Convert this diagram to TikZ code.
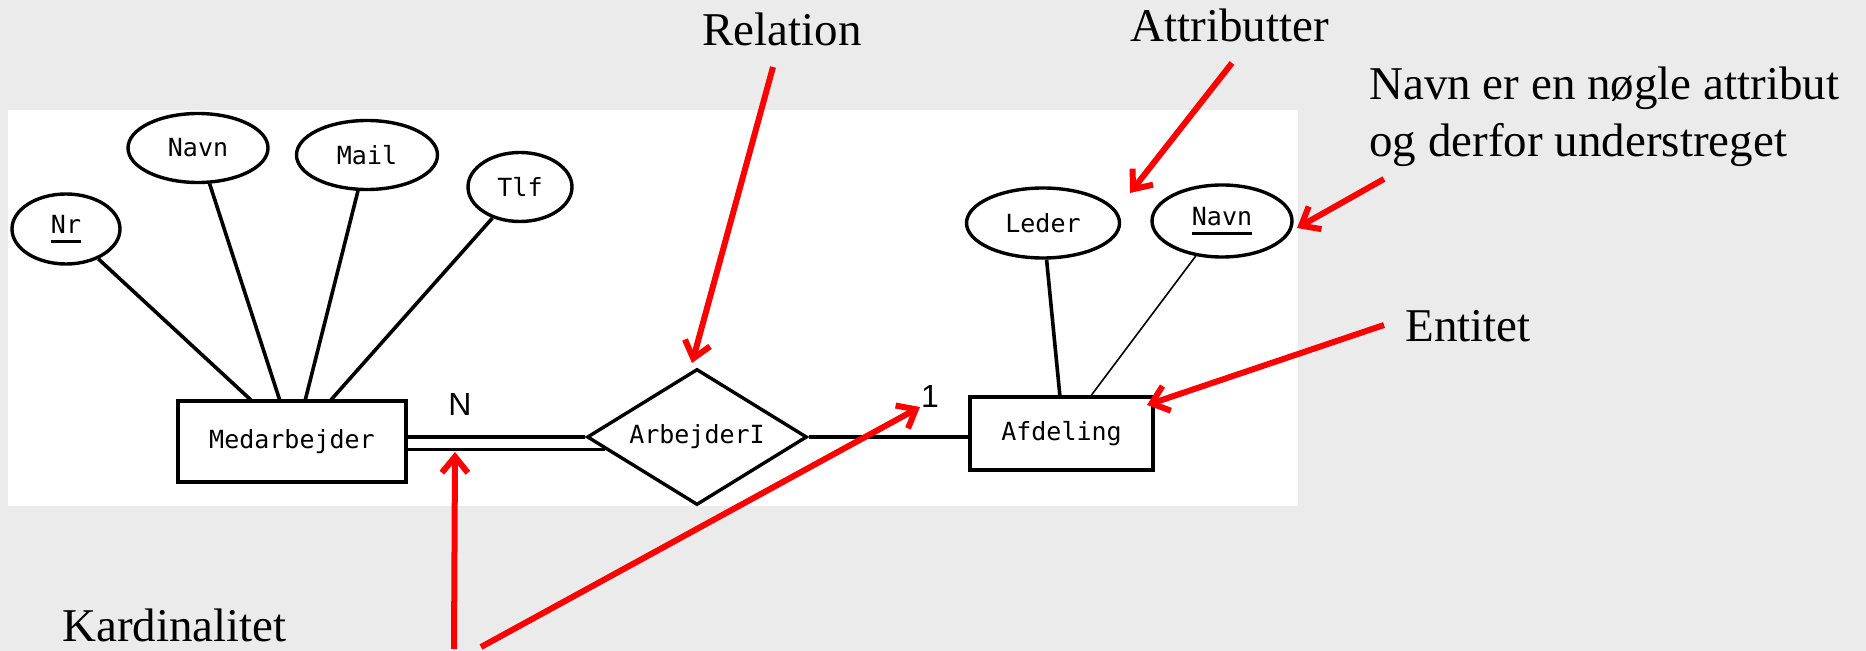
\documentclass[tikz,border=0pt]{standalone}
\usepackage{fontspec}
\setmainfont{Liberation Serif}
\newfontfamily\monofnt{DejaVu Sans Mono}
\newfontfamily\labfnt{Liberation Sans}
\usetikzlibrary{shapes.geometric,arrows.meta,calc}
\definecolor{bggray}{RGB}{235,235,235}
\newcommand\keyul[1]{\setbox0\hbox{#1}\rlap{\rule[-4.5pt]{\wd0}{1.5pt}}\box0}
\begin{document}
\begin{tikzpicture}[x=0.5pt,y=-0.5pt,
  mono/.style={font=\monofnt\fontsize{12.5pt}{14pt}\selectfont},
  attr/.style={ellipse,draw,line width=1.7pt,inner sep=0pt,mono},
  ent/.style={rectangle,draw,line width=1.8pt,inner sep=0pt,mono},
  rel/.style={diamond,draw,line width=1.7pt,inner sep=0pt,shape aspect=1.6,minimum width=110pt,minimum height=68pt,mono},
  link/.style={line width=1.8pt},
  thinlink/.style={line width=0.8pt},
  card/.style={font=\labfnt\fontsize{16pt}{18pt}\selectfont,inner sep=0pt},
  note/.style={font=\fontsize{23.5pt}{28pt}\selectfont,inner sep=0pt,anchor=base west},
  redarr/.style={draw=red,line width=3pt,-{Straight Barb[length=8pt,width=13pt]}}]
\useasboundingbox (0,0) rectangle (1866,651);
\fill[bggray] (0,0) rectangle (1866,651);
\fill[white] (8,110) rectangle (1298,506);

% attributes
\node[attr,minimum width=54pt,minimum height=35pt] (nr) at (66,229) {\keyul{Nr}};
\node[attr,minimum width=70pt,minimum height=34.5pt] (navn) at (198,148) {Navn};
\node[attr,minimum width=70.5pt,minimum height=34.5pt] (mail) at (367,155) {Mail};
\node[attr,minimum width=52pt,minimum height=34.5pt] (tlf) at (520,187) {Tlf};
\node[attr,minimum width=76.5pt,minimum height=35pt] (leder) at (1043,223) {Leder};
\node[attr,minimum width=70pt,minimum height=36pt] (navn2) at (1222,221) {\keyul{Navn}};

% entities and relation
\node[ent,minimum width=114pt,minimum height=40.5pt] (med) at (292,441.5) {Medarbejder};
\node[ent,minimum width=91.5pt,minimum height=36.5pt] (afd) at (1061.5,433.5) {Afdeling};
\node[rel] (arb) at (697,437) {ArbejderI};

% attribute links
\coordinate (m1) at (252,401);
\coordinate (m2) at (280,401);
\coordinate (m3) at (305,401);
\coordinate (m4) at (330,401);
\coordinate (a1) at (1060,397);
\coordinate (a2) at (1090,397);
\draw[link] (nr) -- (m1);
\draw[link] (navn) -- (m2);
\draw[link] (mail) -- (m3);
\draw[link] (tlf) -- (m4);
\draw[link] (leder) -- (a1);
\draw[thinlink] (navn2) -- (a2);

% relation links
\draw[link] (arb.west) -- (arb.west -| med.east);
\coordinate (arbw2) at ($(arb.west)!0.1765!(arb.south)$);
\draw[link] (arbw2) -- (arbw2 -| med.east);
\draw[link] (arb.east) -- (arb.east -| afd.west);

% cardinalities
\node[card] (cN) at (460,404) {N};
\node[card] (c1) at (930,396) {1};

% notes
\node[note] (tRel) at (702,46) {Relation};
\node[note] (tAttr) at (1130,42) {Attributter};
\node[note] (tKey1) at (1369,100) {Navn er en nøgle attribut};
\node[note] (tKey2) at (1369,157) {og derfor understreget};
\node[note] (tEnt) at (1405,342) {Entitet};
\node[note] (tKard) at (62,641) {Kardinalitet};

% red arrows
\coordinate (r1s) at (773,67);   \coordinate (r1e) at (692,363);
\coordinate (r2s) at (1232,63);  \coordinate (r2e) at (1130,193);
\coordinate (r3s) at (1384,179); \coordinate (r3e) at (1297,228);
\coordinate (r4s) at (1384,325); \coordinate (r4e) at (1147,405);
\coordinate (r5s) at (454,649);  \coordinate (r5e) at (455,452);
\coordinate (r6s) at (481,647);  \coordinate (r6e) at (920,407);
\draw[redarr] (r1s) -- (r1e);
\draw[redarr] (r2s) -- (r2e);
\draw[redarr] (r3s) -- (r3e);
\draw[redarr] (r4s) -- (r4e);
\draw[redarr] (r5s) -- (r5e);
\draw[redarr] (r6s) -- (r6e);
\end{tikzpicture}
\end{document}
